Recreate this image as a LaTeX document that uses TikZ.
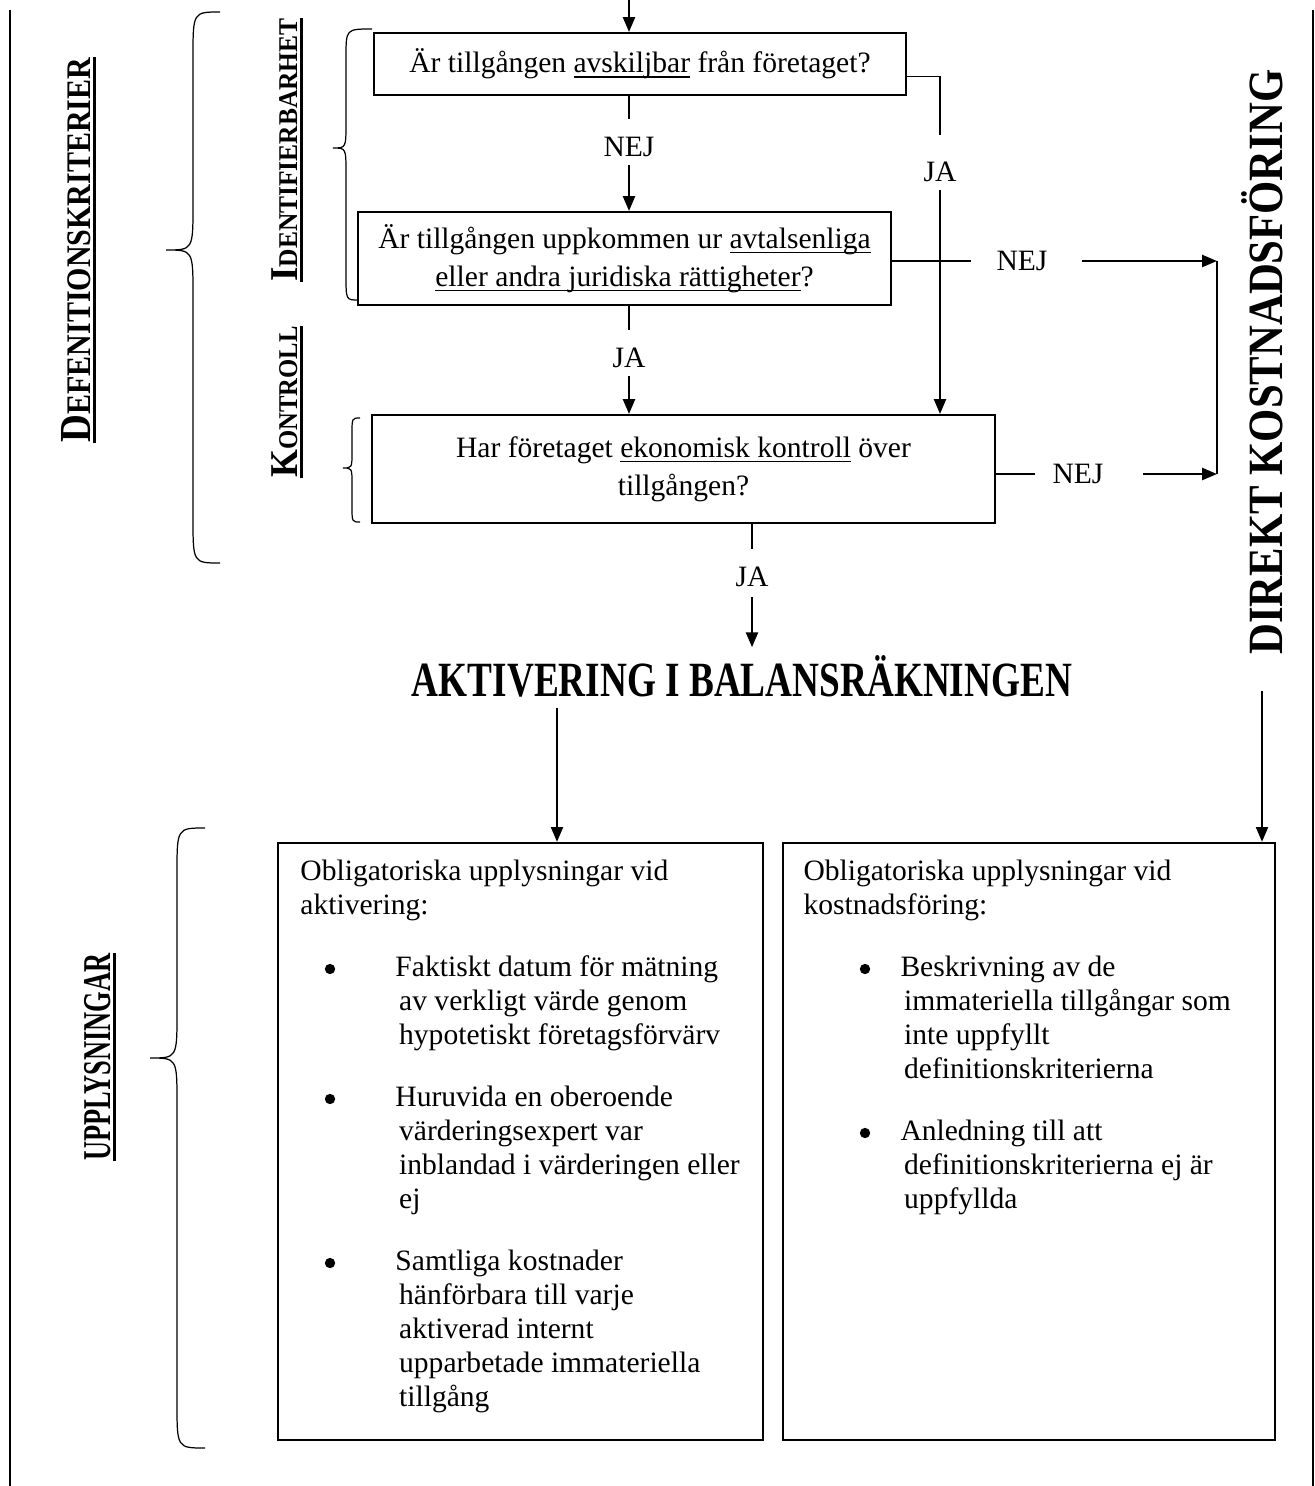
\documentclass[tikz,border=0pt]{standalone}
\usepackage{fontspec}
\setmainfont{Liberation Serif}[BoldFont={Liberation Serif Bold}]
\usepackage{graphicx}
\usetikzlibrary{positioning, arrows.meta}

\newcommand{\pxu}{0.406pt}
\newcommand{\uln}[1]{\leavevmode\setbox0=\hbox{#1}\rlap{\smash{\rule[-2pt]{\wd0}{0.55pt}}}\box0\relax}

\begin{document}
\begin{tikzpicture}[
x=0.406pt, y=-0.406pt,
every node/.style={font=\fontsize{12}{15}\selectfont},
qbox/.style={
rectangle,
draw,
line width=0.8pt,
inner sep=0pt,
align=center,
font=\fontsize{12}{15.5}\selectfont
},
listbox/.style={
rectangle,
draw,
line width=0.9pt,
inner sep=0pt,
minimum height={597*\pxu}
},
listtext/.style={anchor=north west, align=left, inner sep=0pt, font=\fontsize{12}{13.8}\selectfont},
dot/.style={circle, fill, inner sep=0pt, minimum size=4.2pt},
answer/.style={inner sep=0pt},
sidehead/.style={rotate=90, anchor=base, inner xsep=0pt, inner ysep=1.6pt},
arrow/.style={
-{Triangle[length=6pt,width=4.8pt]},
line width=1pt
},
link/.style={line width=0.5pt},
brace/.style={line width=0.5pt},
uline/.style={line width=1.2pt}
]
\useasboundingbox (0,0) rectangle (1315,1486);

% frame
\draw[line width=0.7pt] (10,10) -- (10,1486);
\draw[line width=0.7pt] (1313,10) -- (1313,1486);

% side headings
\node[sidehead] (defhead) at (90,250) {\scalebox{0.87}[1]{\bfseries\fontsize{18}{20}\selectfont D\fontsize{14}{16}\selectfont EFENITIONSKRITERIER}};
\node[sidehead] (identhead) at (297,150) {\scalebox{0.94}[1]{\bfseries\fontsize{16}{18}\selectfont I\fontsize{11}{13}\selectfont DENTIFIERBARHET}};
\node[sidehead] (kontrhead) at (297,402) {\scalebox{0.91}[1]{\bfseries\fontsize{16}{18}\selectfont K\fontsize{11}{13}\selectfont ONTROLL}};
\node[sidehead] (upplhead) at (110,1057) {\scalebox{0.67}[1]{\bfseries\fontsize{16}{18}\selectfont UPPLYSNINGAR}};
\node[sidehead, inner ysep=0pt] (direkt) at (1282,362) {\scalebox{0.867}[1]{\bfseries\fontsize{20}{24}\selectfont DIREKT KOSTNADSFÖRING}};
\draw[uline] (defhead.south west) -- (defhead.south east);
\draw[uline] (identhead.south west) -- (identhead.south east);
\draw[uline] (kontrhead.south west) -- (kontrhead.south east);
\draw[uline] (upplhead.south west) -- (upplhead.south east);

% braces
\draw[brace] (220,12) .. controls (193,12) .. (193,57) -- (193,205) .. controls (193,250) .. (166,250) .. controls (193,250) .. (193,295) -- (193,518) .. controls (193,563) .. (220,563);
\draw[brace] (372,29) .. controls (346,29) .. (346,57) -- (346,123) .. controls (346,148) .. (333,148) .. controls (346,148) .. (346,173) -- (346,275) .. controls (346,300) .. (358,300);
\draw[brace] (360,418) .. controls (352,418) .. (352,434) -- (352,452) .. controls (352,468) .. (343,468) .. controls (352,468) .. (352,484) -- (352,506) .. controls (352,522) .. (360,522);
\draw[brace] (205,828) .. controls (177,828) .. (177,873) -- (177,1013) .. controls (177,1058) .. (150,1058) .. controls (177,1058) .. (177,1103) -- (177,1403) .. controls (177,1448) .. (205,1448);

% questions
\node[qbox, minimum width={532*\pxu}, minimum height={62*\pxu}] (q1) at (640,64) {Är tillgången \uln{avskiljbar} från företaget?};
\node[qbox, minimum width={533*\pxu}, minimum height={93*\pxu}] (q2) at (624.5,258.5) {Är tillgången uppkommen ur \uln{avtalsenliga}\\\uln{eller andra juridiska rättigheter}?};
\node[qbox, minimum width={623*\pxu}, minimum height={108*\pxu}] (q3) at (683.5,469) {Har företaget \uln{ekonomisk kontroll} över\\tillgången?};

% answers
\node[answer] (nej1) at (629,147) {NEJ};
\node[answer] (ja1) at (940,172) {JA};
\node[answer] (nej2) at (1022,261) {NEJ};
\node[answer] (ja2) at (629,358) {JA};
\node[answer] (nej3) at (1078,474) {NEJ};
\node[answer] (ja3) at (752,577) {JA};

\node[inner sep=0pt] (aktiv) at (742,676) {\scalebox{0.756}[1]{\bfseries\fontsize{20}{24}\selectfont AKTIVERING I BALANSRÄKNINGEN}};

\coordinate (entry) at (629,0);
\coordinate (costtop) at (1217,261);
\coordinate (costbot) at (1217,474);

\draw[arrow] (entry) -- (entry |- q1.north);
\draw[link, shorten >=7pt] (q1.south -| nej1) -- (nej1.north);
\draw[arrow, shorten <=3pt] (nej1.south) -- (nej1 |- q2.north);
\draw[link, shorten >=11pt] ([yshift=-5pt]q1.east) -| (ja1.north);
\draw[arrow, shorten <=3pt] (ja1.south) -- (ja1 |- q3.north);
\draw[link, shorten >=10pt] (q2.east |- nej2) -- (nej2.west);
\draw[arrow, shorten <=14pt] (nej2.east) -- (costtop);
\draw[link, shorten >=7pt] (q2.south -| ja2) -- (ja2.north);
\draw[arrow, shorten <=3pt] (ja2.south) -- (ja2 |- q3.north);
\draw[link, shorten >=7pt] (q3.east |- nej3) -- (nej3.west);
\draw[arrow, shorten <=16pt] (nej3.east) -- (costbot);
\draw[link, line width=0.7pt] (costtop) -- (costbot);
\draw[link, shorten >=7pt] (q3.south -| ja3) -- (ja3.north);
\draw[arrow, shorten <=4pt, shorten >=3pt] (ja3.south) -- (ja3 |- aktiv.north);

% disclosure boxes
\node[listbox, minimum width={485*\pxu}] (b1) at (520.5,1141.5) {};
\node[listbox, minimum width={492*\pxu}] (b2) at (1029,1141.5) {};
\draw[arrow, shorten <=4.5pt] (aktiv.south -| 557,0) -- (b1.north -| 557,0);
\draw[arrow, shorten <=14.6pt] (direkt.west -| 1262,0) -- (b2.north -| 1262,0);

\node[listtext] (b1head) at (300,856) {\strut Obligatoriska upplysningar vid\\aktivering:};
\node[dot] (b1dot1) at (330,969) {};
\node[listtext] (b1item1) at (395,952) {\strut Faktiskt datum för mätning\\\hspace*{1.5pt}av verkligt värde genom\\\hspace*{1.5pt}hypotetiskt företagsförvärv};
\node[dot] (b1dot2) at (330,1099) {};
\node[listtext] (b1item2) at (395,1082) {\strut Huruvida en oberoende\\\hspace*{1.5pt}värderingsexpert var\\\hspace*{1.5pt}inblandad i värderingen eller\\\hspace*{1.5pt}ej};
\node[dot] (b1dot3) at (330,1263) {};
\node[listtext] (b1item3) at (395,1246) {\strut Samtliga kostnader\\\hspace*{1.5pt}hänförbara till varje\\\hspace*{1.5pt}aktiverad internt\\\hspace*{1.5pt}upparbetade immateriella\\\hspace*{1.5pt}tillgång};

\node[listtext] (b2head) at (803,856) {\strut Obligatoriska upplysningar vid\\kostnadsföring:};
\node[dot] (b2dot1) at (865,969) {};
\node[listtext] (b2item1) at (900,952) {\strut Beskrivning av de\\\hspace*{1.5pt}immateriella tillgångar som\\\hspace*{1.5pt}inte uppfyllt\\\hspace*{1.5pt}definitionskriterierna};
\node[dot] (b2dot2) at (865,1133) {};
\node[listtext] (b2item2) at (900,1116) {\strut Anledning till att\\\hspace*{1.5pt}definitionskriterierna ej är\\\hspace*{1.5pt}uppfyllda};

\end{tikzpicture}
\end{document}
